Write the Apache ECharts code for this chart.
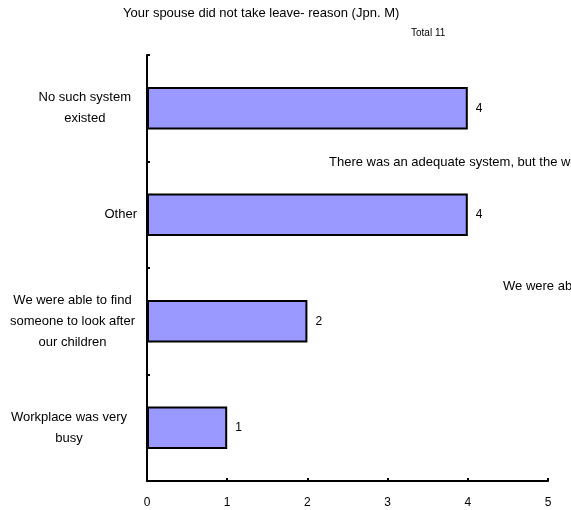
<!DOCTYPE html>
<html><head><meta charset="utf-8">
<script src="https://cdn.jsdelivr.net/npm/echarts@6/dist/echarts.min.js"></script>
<style>html,body{margin:0;padding:0;background:#fff}#c{width:571px;height:510px}</style>
</head><body><div id="c"></div>
<script>
const categories = [
  "Workplace was very\nbusy",
  "We were able to find\nsomeone to look after\nour children",
  "Other",
  "No such system\nexisted"
];
const values = [1, 2, 4, 4];
const xTicks = [0, 1, 2, 3, 4, 5];
const titleText = "Your spouse did not take leave- reason (Jpn. M)";
const totalText = "Total 11";
const strayTexts = [
  "There was an adequate system, but the workplace atmosphere made it difficult",
  "We were able to take leave ourselves"
];
// layout only: extra right inset of each category label block (px)
const labelInset = [10, 2, 0, 6];

const chart = echarts.init(document.getElementById('c'));
const F = '"Liberation Sans", Arial, sans-serif';
const FS = 13;
chart.setOption({
  animation: false,
  backgroundColor: '#fff',
  grid: {left: 147, right: 23, top: 55, bottom: 29, containLabel: false},
  xAxis: {
    type: 'value', min: xTicks[0], max: xTicks[xTicks.length - 1], interval: 1,
    axisLine: {show: true, lineStyle: {color: '#000', width: 2}},
    axisTick: {show: true, inside: true, length: 3, lineStyle: {color: '#000', width: 2}},
    splitLine: {show: false},
    axisLabel: {color: '#000', fontSize: 12, fontFamily: F, margin: 16}
  },
  yAxis: {
    type: 'category',
    data: categories.map((c, i) => ({value: c, textStyle: {padding: [0, labelInset[i], 0, 0]}})),
    axisLine: {show: true, lineStyle: {color: '#000', width: 2}},
    axisTick: {show: true, inside: true, length: 3, lineStyle: {color: '#000', width: 2}},
    axisLabel: {
      color: '#000', fontSize: FS, fontFamily: F, margin: 10, align: 'right', lineHeight: 21,
      formatter: v => v.split('\n').map(l => '{c|' + l + '}').join('\n'),
      rich: {c: {align: 'center', fontSize: FS, fontFamily: F, color: '#000', lineHeight: 21}}
    }
  },
  series: [{
    type: 'bar', data: values, barWidth: '40%',
    itemStyle: {color: '#9999FF', borderColor: '#000', borderWidth: 2},
    label: {show: true, position: 'right', distance: 8, color: '#000', fontSize: 12, fontFamily: F}
  }],
  graphic: [
    {type: 'text', left: 123, top: 7, style: {text: titleText, fontSize: FS, fontFamily: F, fill: '#000'}},
    {type: 'text', left: 411, top: 28, style: {text: totalText, fontSize: 10, fontFamily: F, fill: '#000'}},
    {type: 'text', left: 329, top: 156, style: {text: strayTexts[0], fontSize: FS, fontFamily: F, fill: '#000'}},
    {type: 'text', left: 503, top: 280, style: {text: strayTexts[1], fontSize: FS, fontFamily: F, fill: '#000'}}
  ]
});
</script></body></html>
